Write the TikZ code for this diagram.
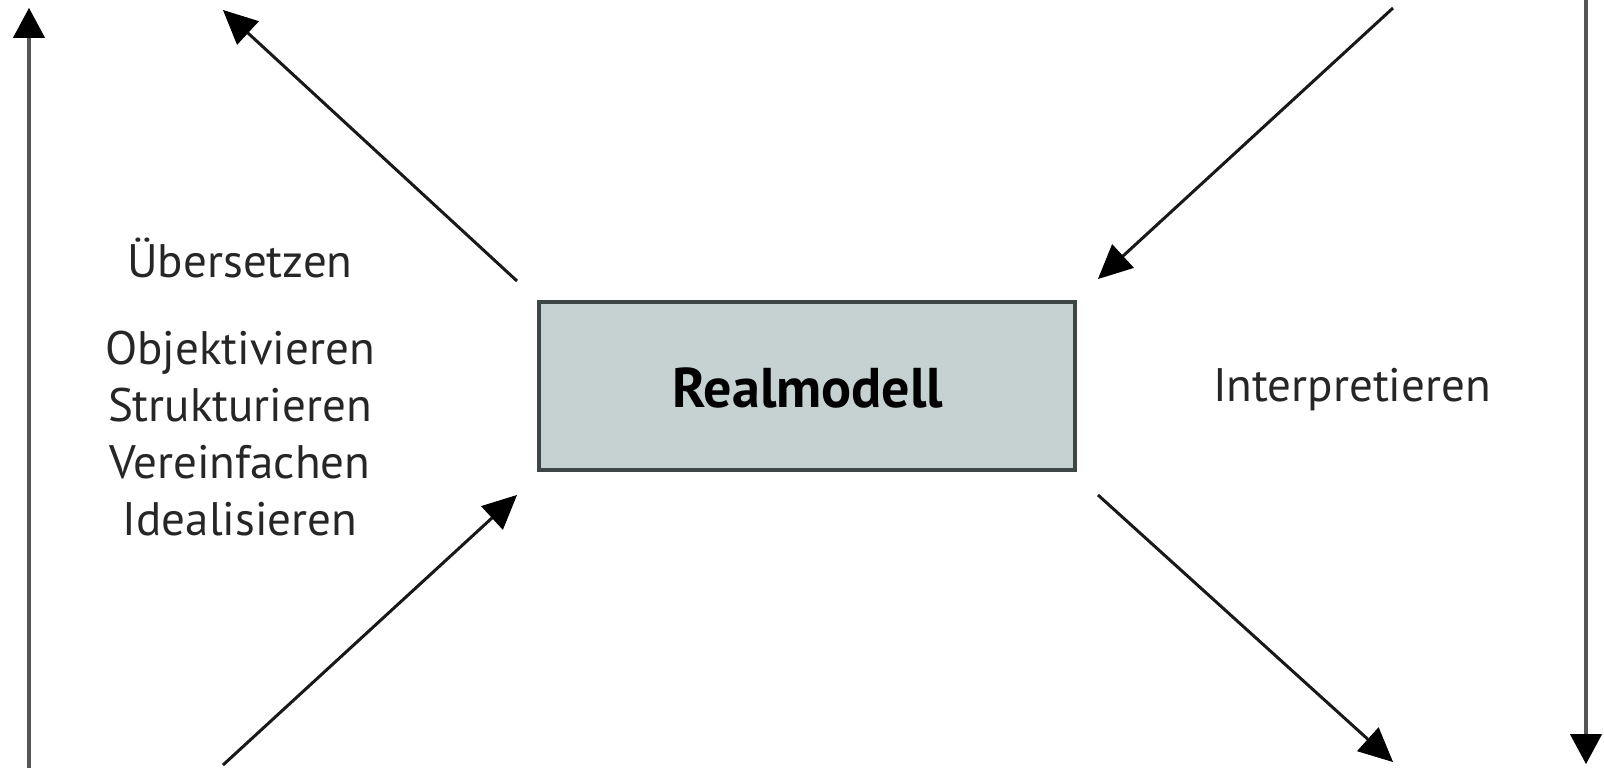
\documentclass[tikz,border=0pt]{standalone}
\usepackage{fontspec}
\setmainfont{PT Sans}
\usetikzlibrary{arrows.meta}
\definecolor{boxfill}{HTML}{C5D2D1}
\definecolor{boxline}{HTML}{3F4646}
\definecolor{vline}{HTML}{555555}
\tikzset{
  diag/.style={line width=3pt, draw=black!90, -{Triangle[length=34pt,width=32pt,color=black,line width=1pt]}},
  vert/.style={line width=4pt, draw=vline, -{Triangle[length=30pt,width=32pt,color=black,line width=1pt]}},
  lbl/.style={font=\fontsize{47}{57}\selectfont, text=black!85, align=center, inner sep=0pt},
  modelbox/.style={draw=boxline, line width=4pt, fill=boxfill, minimum width=536pt, minimum height=168pt, inner sep=0pt}
}
\begin{document}
\begin{tikzpicture}[x=1pt,y=-1pt]
\useasboundingbox (0,0) rectangle (1604,768);
\node[modelbox] (box) at (807,386) {};
\node[lbl, font=\fontsize{56}{60}\selectfont\bfseries, text=black] (real) at (808,388) {Realmodell};
\node[lbl] (ueb) at (240,258) {Übersetzen};
\node[lbl] (list) at (240,434) {Objektivieren\\Strukturieren\\Vereinfachen\\Idealisieren};
\node[lbl] (interp) at (1352,390) {Interpretieren};
\coordinate (ulS) at (517,281); \coordinate (ulT) at (223,10);
\coordinate (urS) at (1393,8); \coordinate (urT) at (1098,279);
\coordinate (llS) at (223,765); \coordinate (llT) at (517,495);
\coordinate (lrS) at (1098,495); \coordinate (lrT) at (1393,762);
\coordinate (lvS) at (29,768); \coordinate (lvT) at (29,8);
\coordinate (rvS) at (1586,0); \coordinate (rvT) at (1586,764);
\draw[diag] (ulS) -- (ulT);
\draw[diag] (urS) -- (urT);
\draw[diag] (llS) -- (llT);
\draw[diag] (lrS) -- (lrT);
\draw[vert] (lvS) -- (lvT);
\draw[vert] (rvS) -- (rvT);
\end{tikzpicture}
\end{document}
